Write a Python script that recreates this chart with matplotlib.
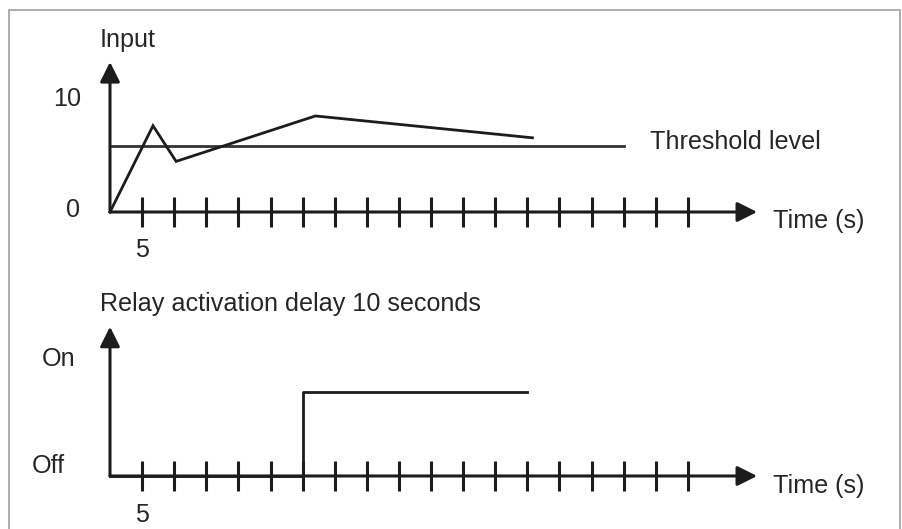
import matplotlib.pyplot as plt
from matplotlib.patches import Rectangle

plt.rcParams['font.family'] = ['Liberation Sans', 'DejaVu Sans']

# data
tick_times = list(range(5, 95, 5))
input_t = [0, 6.7, 10.3, 32, 65.8]
input_v = [0, 7.5, 4.4, 8.35, 6.45]
threshold = 5.7
threshold_end = 80
relay_t = [0, 30, 30, 65]
relay_v = [0, 0, 1, 1]

ink = '#1c1c1c'
txt = '#262626'
fs = 18.1

fig = plt.figure(figsize=(9.02, 5.29), dpi=100)

# x scale shared: origin at 110 px, 6.42 px per second
xlim = (-110 / 6.42, (902 - 110) / 6.42)
x_tip = 100.8

ax1 = fig.add_axes([0, 265 / 529, 1, 264 / 529])
ax2 = fig.add_axes([0, 0, 1, 265 / 529])
ax1.set_xlim(*xlim)
ax2.set_xlim(*xlim)
ax1.set_ylim(-4.52, 18.43)
ax2.set_ylim(-0.629, 2.515)
for ax in (ax1, ax2):
    ax.axis('off')

arrow = dict(arrowstyle='-|>,head_length=0.6,head_width=0.3', mutation_scale=20,
             lw=2.2, color=ink, shrinkA=0, shrinkB=0)

# top panel
ax1.annotate('', xy=(0, 13.04), xytext=(0, 0), arrowprops=arrow)
ax1.annotate('', xy=(x_tip, 0), xytext=(0, 0), arrowprops=arrow)
ax1.plot(tick_times, [0] * len(tick_times), '|', ms=22, mew=2.2, color=ink)
ax1.plot([0, threshold_end], [threshold, threshold], color='#333333', lw=2.0)
ax1.plot(input_t, input_v, color=ink, lw=2.0, solid_joinstyle='miter')

ax1.text(-1.56, 14.35, 'Input', fontsize=fs, color=txt, ha='left', va='baseline')
ax1.text(-4.5, 9.22, '10', fontsize=fs, color=txt, ha='right', va='baseline')
ax1.text(-4.6, -0.41, '0', fontsize=fs, color=txt, ha='right', va='baseline')
ax1.text(5, -3.89, '5', fontsize=fs, color=txt, ha='center', va='baseline')
ax1.text(103.3, -1.42, 'Time (s)', fontsize=fs, color=txt, ha='left', va='baseline')
ax1.text(84.1, 5.45, 'Threshold level', fontsize=fs, color=txt, ha='left', va='baseline')

# bottom panel
ax2.annotate('', xy=(0, 1.771), xytext=(0, 0), arrowprops=arrow)
ax2.annotate('', xy=(x_tip, 0), xytext=(0, 0), arrowprops=arrow)
ax2.plot(tick_times, [0] * len(tick_times), '|', ms=22, mew=2.2, color=ink)
ax2.plot(relay_t, relay_v, color=ink, lw=2.0)

ax2.text(-1.56, 1.957, 'Relay activation delay 10 seconds', fontsize=fs, color=txt,
         ha='left', va='baseline')
ax2.text(-10.64, 1.308, 'On', fontsize=fs, color=txt, ha='left', va='baseline')
ax2.text(-12.2, 0.032, 'Off', fontsize=fs, color=txt, ha='left', va='baseline')
ax2.text(5, -0.542, '5', fontsize=fs, color=txt, ha='center', va='baseline')
ax2.text(103.3, -0.198, 'Time (s)', fontsize=fs, color=txt, ha='left', va='baseline')

# grey frame around the picture
fig.patches.append(Rectangle((8.5 / 902, -0.02), (900 - 8.5) / 902, 1.02 - 9.5 / 529,
                             transform=fig.transFigure, fill=False,
                             edgecolor='#a0a0a0', lw=1.2))

fig.savefig('out.png', dpi=100)
